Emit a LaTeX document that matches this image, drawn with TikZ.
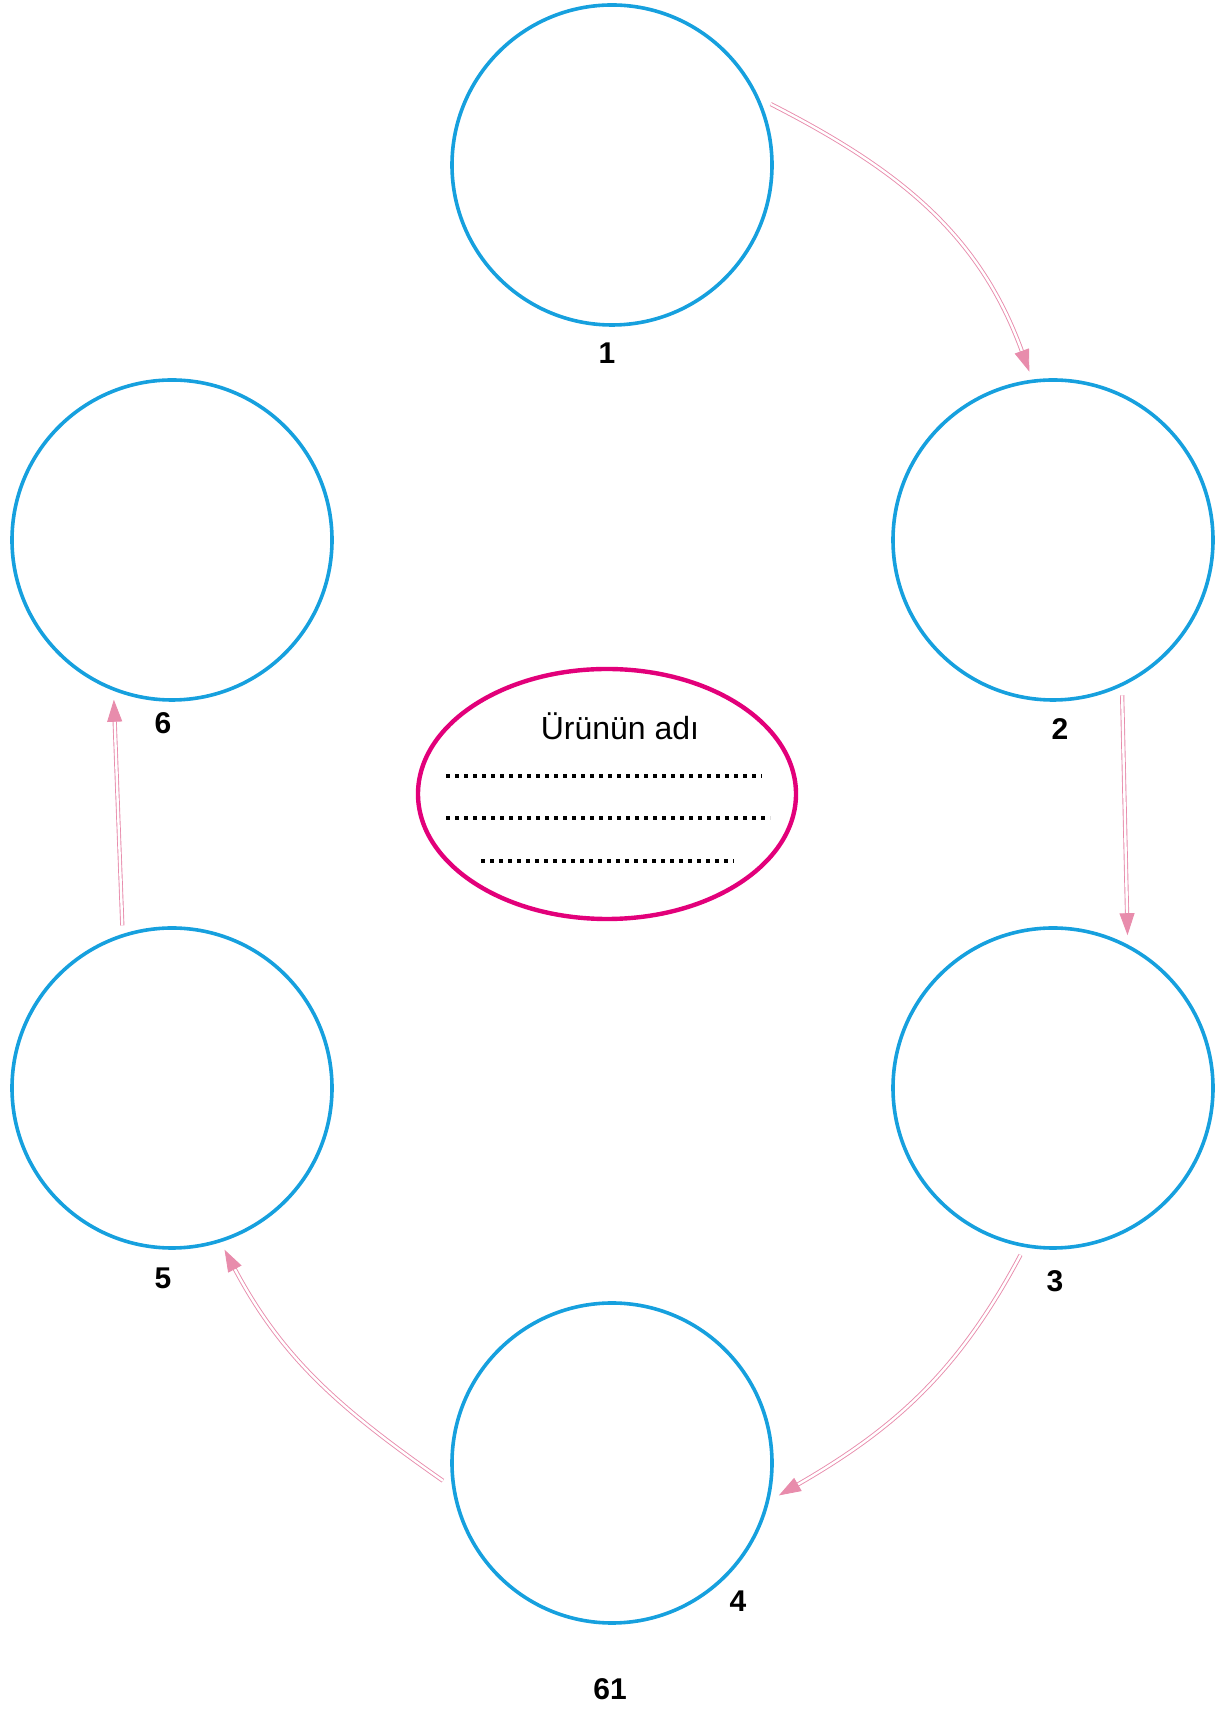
\documentclass[tikz,border=0pt]{standalone}
\usepackage{fontspec}
\setmainfont{Liberation Sans}
\usetikzlibrary{arrows.meta,shapes.geometric}
\definecolor{kreis}{RGB}{22,160,222}
\definecolor{oval}{RGB}{226,0,122}
\definecolor{pfeil}{RGB}{232,140,172}
\tikzset{
	stage/.style={circle, draw=kreis, line width=1.8pt, minimum size=160pt, outer sep=5pt},
	nummer/.style={font=\fontsize{15}{18}\selectfont\bfseries},
	weiter/.style={draw=pfeil, line width=0.45pt, double=white, double distance=1.2pt, -{Triangle[length=11pt,width=7.5pt]}},
	punkte/.style={line width=2pt, dash pattern=on 2.2pt off 2.3pt},
}
\begin{document}
\begin{tikzpicture}[x=0.5pt,y=0.5pt]
		\useasboundingbox (0,0) rectangle (1218,1709);
		
		\node[stage] (s1) at (612,1544) {};
		\node[stage] (s2) at (1053,1169) {};
		\node[stage] (s3) at (1053,621) {};
		\node[stage] (s4) at (612,246) {};
		\node[stage] (s5) at (172,621) {};
		\node[stage] (s6) at (172,1169) {};
		
		\node[nummer] (n1) at (607,1356) {1};
		\node[nummer] (n2) at (1060,980) {2};
		\node[nummer] (n3) at (1055,428) {3};
		\node[nummer] (n4) at (738,108) {4};
		\node[nummer] (n5) at (163,431) {5};
		\node[nummer] (n6) at (163,986) {6};
		\node[nummer] (seite) at (610,20) {61};
		
		\node[ellipse, draw=oval, line width=2.2pt, minimum width=189pt, minimum height=125pt] (produkt) at (607,915) {};
		\node[font=\fontsize{16}{19}\selectfont] (titel) at (620,983) {Ürünün adı};
		\draw[punkte] (446,933) -- (762,933);
		\draw[punkte] (446,891) -- (770,891);
		\draw[punkte] (481,848) -- (734,848);
		
		\draw[weiter] (s1.21) to[out=-27,in=110] (s2.98);
		\draw[weiter] (s2.-66) -- (s3.64);
		\draw[weiter] (s3.-101) to[out=-118,in=30] (s4.-11);
		\draw[weiter] (s4.186) to[out=145,in=-62] (s5.-72);
		\draw[weiter] (s5.107) -- (s6.250);
	\end{tikzpicture}
\end{document}
